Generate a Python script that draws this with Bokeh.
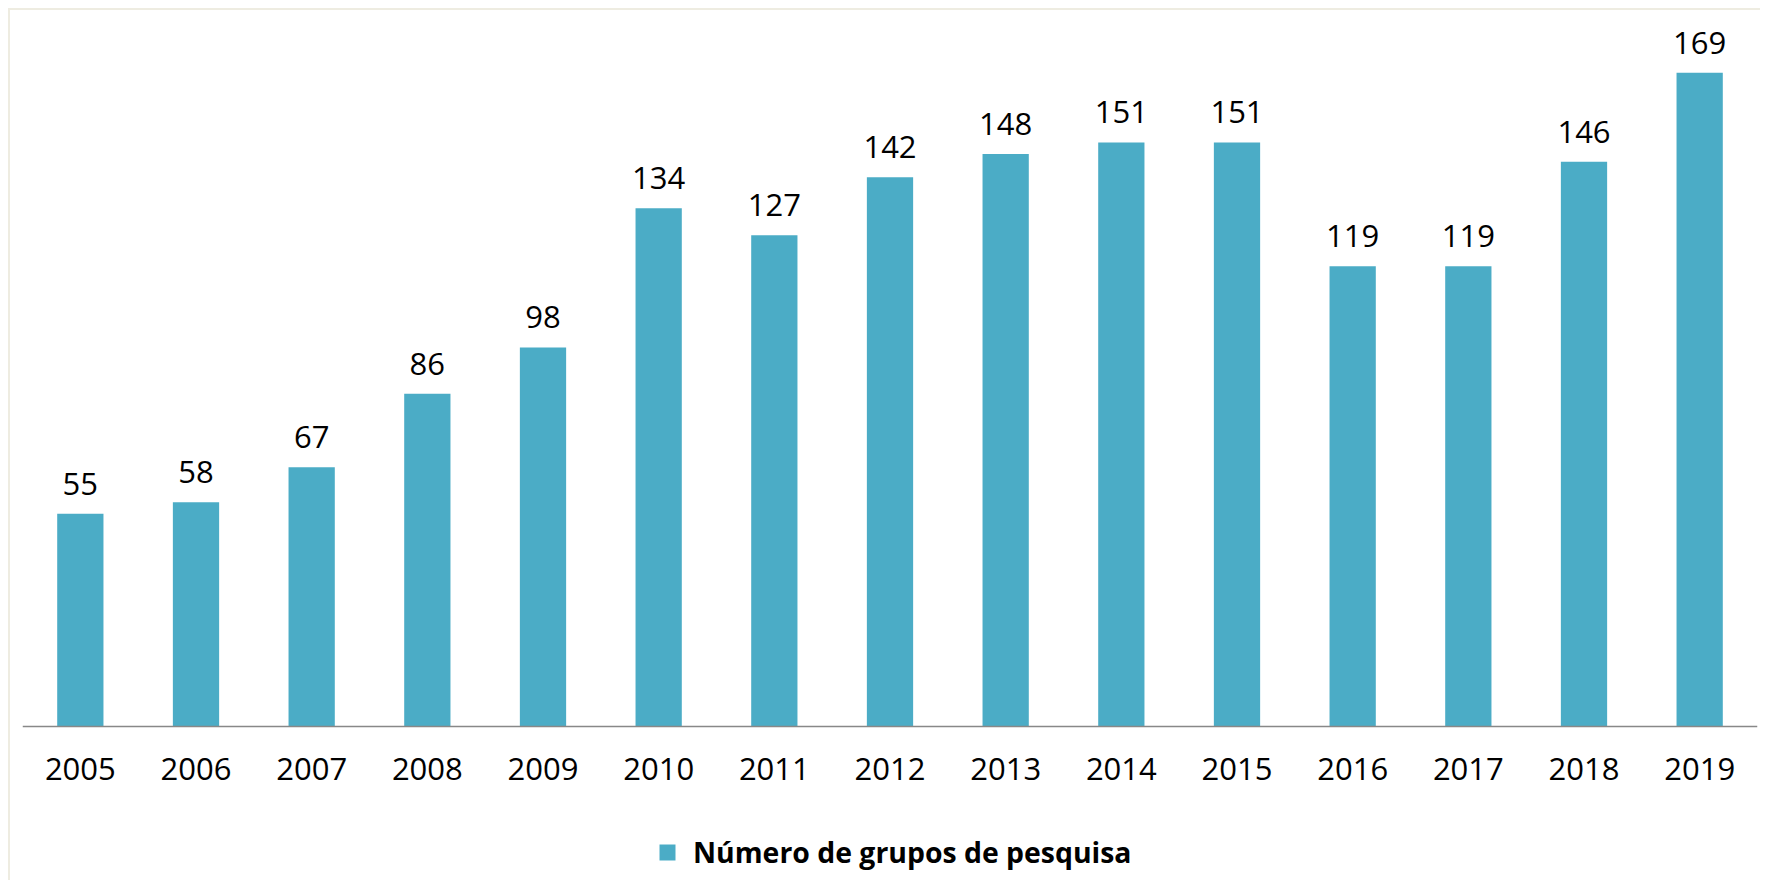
from bokeh.plotting import figure
from bokeh.models import ColumnDataSource, Legend, LegendItem, Range1d, FactorRange, CategoricalAxis
from bokeh.core.properties import value
from bokeh.embed import file_html
from bokeh.resources import INLINE

years = ["2005", "2006", "2007", "2008", "2009", "2010", "2011", "2012",
         "2013", "2014", "2015", "2016", "2017", "2018", "2019"]
groups = [55, 58, 67, 86, 98, 134, 127, 142, 148, 151, 151, 119, 119, 146, 169]
series_name = "Número de grupos de pesquisa"

BAR = "#4BACC6"
FONT = "Open Sans"

src = ColumnDataSource(dict(x=years, y=groups, lbl=[str(v) for v in groups]))

p = figure(frame_width=1735, frame_height=870, output_backend="svg", toolbar_location=None,
           x_range=FactorRange(factors=years, range_padding=0),
           y_range=Range1d(-39.8, 185.1),
           x_axis_location=None, y_axis_location=None,
           min_border_left=12, min_border_right=3, min_border_top=0,
           min_border_bottom=0)
p.styles = {"border-top": "2px solid #EEECE1", "border-left": "2px solid #EEECE1",
            "margin-top": "8px", "margin-left": "8px"}
p.outline_line_color = None
p.background_fill_color = "white"
p.border_fill_color = "white"
p.xgrid.visible = False
p.ygrid.visible = False

r = p.vbar(x="x", top="y", width=0.4, source=src, fill_color=BAR, line_color=None)

p.text(x="x", y="y", text="lbl", source=src, text_align="center",
       text_baseline="bottom", y_offset=-19, text_font=value(FONT),
       text_font_size="31px", text_color="black")

ax = CategoricalAxis(fixed_location=0)
ax.axis_line_color = "#888888"
ax.axis_line_width = 1.5
ax.major_tick_line_color = None
ax.minor_tick_line_color = None
ax.major_label_text_font = FONT
ax.major_label_text_font_size = "31px"
ax.major_label_text_color = "black"
ax.major_label_standoff = 25
p.add_layout(ax, "below")

legend = Legend(items=[LegendItem(label=series_name, renderers=[r])],
                location=(635, 9), orientation="horizontal",
                glyph_width=20, glyph_height=20, label_standoff=16,
                label_text_font=FONT, label_text_font_size="28.4px",
                label_text_font_style="bold", label_text_color="black",
                padding=0, margin=0, border_line_color=None,
                background_fill_alpha=0)
p.add_layout(legend, "center")

open("out.html", "w").write(file_html(p, INLINE))
